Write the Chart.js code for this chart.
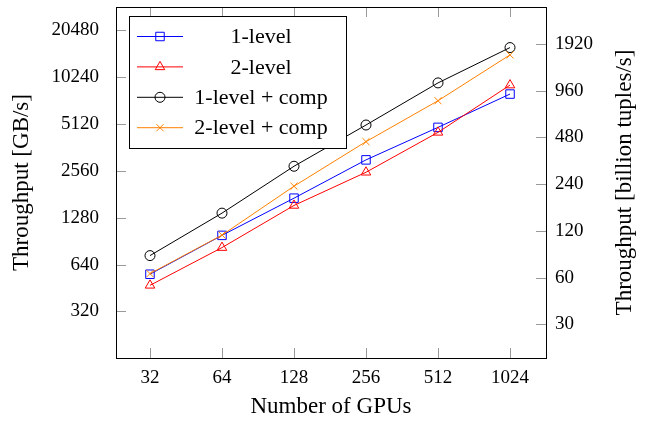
<!DOCTYPE html>
<html>
<head>
<meta charset="utf-8">
<script src="https://cdn.jsdelivr.net/npm/chart.js@4.4.1/dist/chart.umd.min.js"></script>
<style>
  body { margin: 0; background: #fff; }
  #wrap { width: 652px; height: 421px; position: relative; }
</style>
</head>
<body>
<div id="wrap"><canvas id="chart"></canvas></div>
<script>
var gpus = [32, 64, 128, 256, 512, 1024];
var oneLevel = [555, 986, 1709, 3011, 4870, 7970];
var twoLevel = [471, 823, 1535, 2507, 4523, 9100];
var oneLevelComp = [731, 1370, 2740, 5043, 9400, 15850];
var twoLevelComp = [560, 990, 2040, 3943, 7220, 14230];
var leftTicks = [320, 640, 1280, 2560, 5120, 10240, 20480];
var rightTicks = [30, 60, 120, 240, 480, 960, 1920];
var rightTitle = 'Throughput [billion tuples/s]';

var serif = "'Liberation Serif', 'Times New Roman', serif";

function pairs(vals) {
  return Array.from(vals, (v, i) => ({x: gpus[i], y: v}));
}

function series(label, vals, color, style, radius, order) {
  return {
    label: label,
    data: pairs(vals),
    borderColor: color,
    backgroundColor: 'rgba(0,0,0,0)',
    borderWidth: 1,
    pointStyle: style,
    pointRadius: radius,
    pointBorderColor: color,
    pointBackgroundColor: 'rgba(0,0,0,0)',
    pointBorderWidth: 1,
    lineTension: 0,
    order: order,
    yAxisID: 'y'
  };
}

function fixedTicks(list) {
  return function (scale) {
    scale.ticks = list.map(v => ({value: v}));
  };
}

// frame, inward tick marks, right axis title and the boxed legend
var decor = {
  id: 'decor',
  afterDraw: function (chart) {
    var c = chart.ctx, a = chart.chartArea;
    var sx = chart.scales.x, sy = chart.scales.y, sr = chart.scales.y2;
    var len = 10;
    c.save();
    c.strokeStyle = '#9a9a9a';
    c.lineWidth = 1;
    c.beginPath();
    gpus.forEach(function (g) {
      var px = Math.round(sx.getPixelForValue(g)) + 0.5;
      c.moveTo(px, a.bottom); c.lineTo(px, a.bottom - len);
      c.moveTo(px, a.top); c.lineTo(px, a.top + len);
    });
    leftTicks.forEach(function (t) {
      var py = Math.round(sy.getPixelForValue(t)) + 0.5;
      c.moveTo(a.left, py); c.lineTo(a.left + len, py);
    });
    rightTicks.forEach(function (t) {
      var py = Math.round(sr.getPixelForValue(t)) + 0.5;
      c.moveTo(a.right, py); c.lineTo(a.right - len, py);
    });
    c.stroke();

    c.strokeStyle = '#000';
    c.strokeRect(Math.round(a.left) + 0.5, Math.round(a.top) + 0.5,
                 Math.round(a.right - a.left), Math.round(a.bottom - a.top));

    // right title reads bottom to top, like the left one
    c.save();
    c.translate(sr.right - 27, (a.top + a.bottom) / 2);
    c.rotate(-Math.PI / 2);
    c.font = '23px ' + serif;
    c.fillStyle = '#000';
    c.textAlign = 'center';
    c.textBaseline = 'middle';
    c.fillText(rightTitle, 0, 0);
    c.restore();

    // legend
    var lx = 129.5, ly = 16.5, lw = 217, lh = 132;
    c.fillStyle = '#fff';
    c.fillRect(lx, ly, lw, lh);
    c.strokeStyle = '#000';
    c.strokeRect(lx, ly, lw, lh);
    c.font = '22px ' + serif;
    c.textAlign = 'center';
    c.textBaseline = 'middle';
    chart.data.datasets.forEach(function (ds, i) {
      var y = 36.5 + i * 30.4;
      c.strokeStyle = ds.borderColor;
      c.fillStyle = 'rgba(0,0,0,0)';
      c.lineWidth = 1;
      c.beginPath();
      c.moveTo(137, y); c.lineTo(183, y);
      c.stroke();
      Chart.helpers.drawPoint(c, {
        pointStyle: ds.pointStyle, radius: ds.pointRadius,
        rotation: 0, borderWidth: 1
      }, 160, y);
      c.fillStyle = '#000';
      c.fillText(ds.label, 261, y + 1);
    });
    c.restore();
  }
};

new Chart(document.getElementById('chart'), {
  type: 'line',
  data: {
    datasets: [
      series('1-level', oneLevel, '#0000ff', 'rect', 6, 3),
      series('2-level', twoLevel, '#ff0000', 'triangle', 5.5, 2),
      series('1-level + comp', oneLevelComp, '#000000', 'circle', 5, 1),
      series('2-level + comp', twoLevelComp, '#ff8000', 'crossRot', 5, 0)
    ]
  },
  options: {
    responsive: true,
    maintainAspectRatio: false,
    animation: false,
    layout: { padding: { top: 5, left: 0, right: 0, bottom: 0 } },
    plugins: {
      legend: { display: false },
      tooltip: { enabled: false }
    },
    scales: {
      x: {
        type: 'logarithmic',
        position: 'bottom',
        min: 23.07,
        max: 1448,
        afterBuildTicks: fixedTicks(gpus),
        afterFit: function (s) { s.height = 63; s.paddingLeft = 0; s.paddingRight = 0; },
        grid: { display: false, drawTicks: false },
        border: { display: false },
        ticks: {
          padding: 9,
          color: '#000',
          font: { family: serif, size: 19 },
          maxRotation: 0,
          callback: v => String(v)
        },
        title: {
          display: true,
          text: 'Number of GPUs',
          color: '#000',
          font: { family: serif, size: 23 },
          padding: { top: 0, bottom: 0 }
        }
      },
      y: {
        type: 'logarithmic',
        position: 'left',
        min: 160.8,
        max: 28880,
        afterBuildTicks: fixedTicks(leftTicks),
        afterFit: function (s) { s.width = 116; s.paddingTop = 0; s.paddingBottom = 0; },
        grid: { display: false, drawTicks: false },
        border: { display: false },
        ticks: {
          padding: 17,
          color: '#000',
          font: { family: serif, size: 19 },
          callback: v => String(v)
        },
        title: {
          display: true,
          text: 'Throughput [GB/s]',
          color: '#000',
          font: { family: serif, size: 23 },
          padding: { top: 8, bottom: 0 }
        }
      },
      y2: {
        type: 'logarithmic',
        position: 'right',
        min: 18.17,
        max: 3330,
        afterBuildTicks: fixedTicks(rightTicks),
        afterFit: function (s) { s.width = 106; s.paddingTop = 0; s.paddingBottom = 0; },
        grid: { display: false, drawTicks: false },
        border: { display: false },
        ticks: {
          padding: 9,
          color: '#000',
          font: { family: serif, size: 19 },
          callback: v => String(v)
        }
      }
    }
  },
  plugins: [decor]
});
</script>
</body>
</html>
